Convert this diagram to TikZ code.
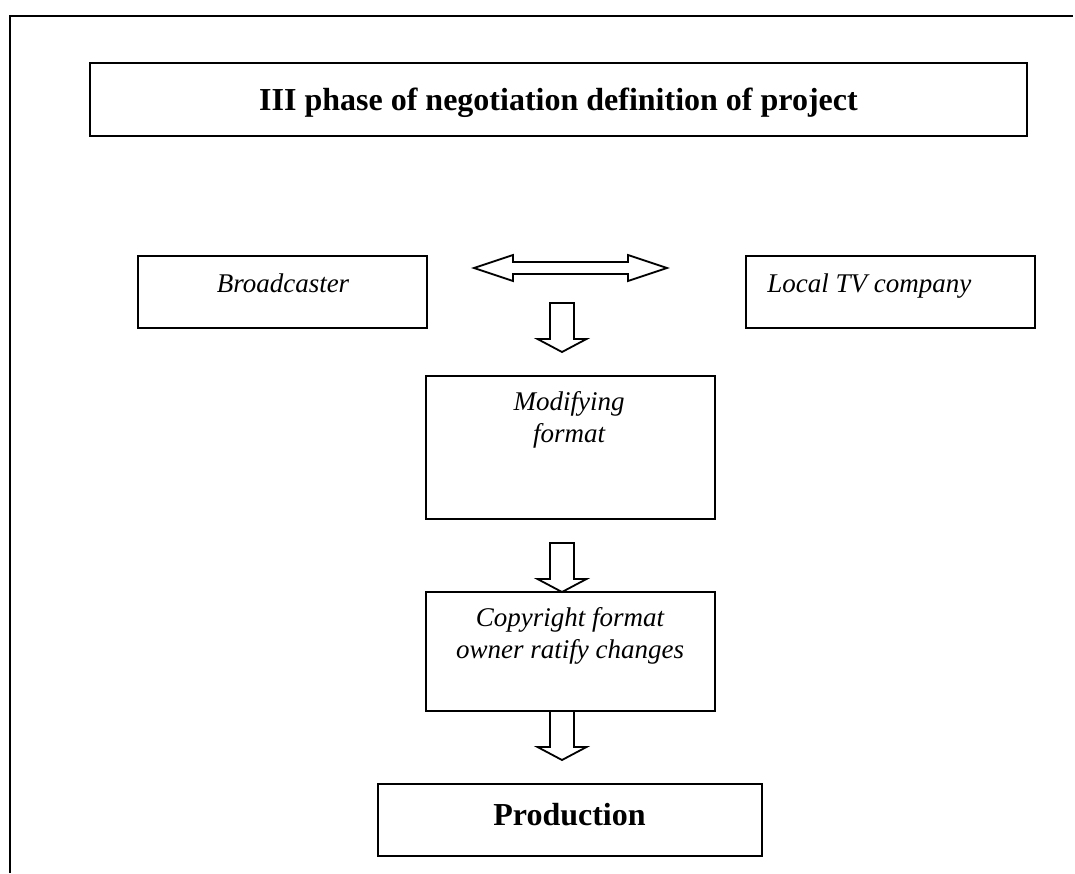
\documentclass[tikz,border=0pt]{standalone}
\usepackage{fontspec}
\setmainfont{Liberation Serif}
\usepackage{xcolor}
\usetikzlibrary{calc}

\begin{document}
\begin{tikzpicture}[x=0.5pt,y=-0.5pt]
	\tikzset{% This is the style settings for boxes and arrows
		boxnode/.style={rectangle,draw=black,line width=1pt,inner sep=0pt},
		italictext/.style={font=\fontsize{13.5}{16}\selectfont\itshape,inner sep=0pt,align=center},
		boldtext/.style={font=\fontsize{16}{19}\selectfont\bfseries,inner sep=0pt},
		blockarrow/.style={draw=black,line width=0.9pt,fill=white,line join=miter},
		downblock/.pic={\draw[blockarrow] (-12,0) -- (-12,36) -- (-24.5,36) -- (0,49) -- (24.5,36) -- (12,36) -- (12,0) -- cycle;},
		twoblock/.pic={\draw[blockarrow] (-96.5,0) -- (-57.5,-13) -- (-57.5,-6) -- (57.5,-6) -- (57.5,-13) -- (96.5,0) -- (57.5,13) -- (57.5,6) -- (-57.5,6) -- (-57.5,13) -- cycle;}}
	\useasboundingbox (0,0) rectangle (1075,873);
	% page frame
	\draw[line width=1.1pt] (10,873) -- (10,16) -- (1073,16);

	\node[boxnode,minimum width=468.5pt,minimum height=36.5pt] (title) at (558.5,99.5) {};
	\node[boxnode,minimum width=144.5pt,minimum height=36pt] (bcast) at (282.5,292) {};
	\node[boxnode,minimum width=144.5pt,minimum height=36pt] (local) at (890.5,292) {};
	\node[boxnode,minimum width=144.5pt,minimum height=71.5pt] (modify) at (570.5,447.5) {};
	\node[boxnode,minimum width=144.5pt,minimum height=59.5pt] (ratify) at (570.5,651.5) {};
	\node[boxnode,minimum width=192pt,minimum height=36pt] (prod) at (570,820) {};

	\node[boldtext,anchor=base] (titletext) at (558.5,110) {III phase of negotiation definition of project};
	\node[italictext,anchor=base] (bcasttext) at (283,292) {Broadcaster};
	\node[italictext,anchor=base west] (localtext) at (767,292) {Local TV company};
	\node[italictext,anchor=base] (modifytext) at (569,442) {Modifying\\format};
	\node[italictext,anchor=base] (ratifytext) at (570,658) {Copyright format\\owner ratify changes};
	\node[boldtext,anchor=base] (prodtext) at (569.5,825) {Production};

	% block arrows
	\coordinate (both) at ($(bcast.east)!0.5!(local.west)+(-16,-24)$);
	\coordinate (down1) at (562,303);
	\coordinate (down2) at (562,543);
	\coordinate (down3) at (562,711);
	\pic at (both) {twoblock};
	\pic at (down1) {downblock};
	\pic at (down2) {downblock};
	\pic at (down3) {downblock};
\end{tikzpicture}
\end{document}
